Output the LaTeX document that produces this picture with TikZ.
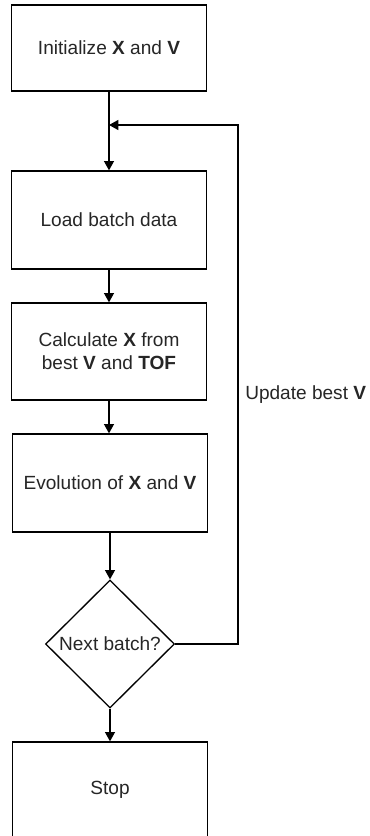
\documentclass[tikz,border=0pt]{standalone}
\usepackage{fontspec}
\setmainfont{Liberation Sans}
\usetikzlibrary{shapes.geometric,arrows.meta}
\tikzset{
	stepbox/.style={draw,line width=1pt,inner sep=0pt,minimum width=146.25pt,minimum height=73.5pt,align=center,text=black!85},
	decision/.style={draw,diamond,aspect=1,line width=1pt,inner sep=0pt,minimum width=96.75pt,minimum height=96pt,text=black!85},
	flow/.style={line width=1pt,-{Triangle[length=7pt,width=7.5pt]}},
}
\begin{document}
\begin{tikzpicture}[x=0.75pt,y=-0.75pt,font=\fontsize{14.3}{17.5}\selectfont]
	\useasboundingbox(0,0) rectangle (369,836);
	\node[stepbox,minimum height=64.5pt](init) at(109,48){Initialize \textbf{X} and \textbf{V}};
	\node[stepbox](load) at(109,220){Load batch data};
	\node[stepbox,minimum height=72.75pt](calc) at(109,351.5){Calculate \textbf{X} from\\best \textbf{V} and \textbf{TOF}};
	\node[stepbox](evol) at(110,483){Evolution of \textbf{X} and \textbf{V}};
	\node[decision](next) at(110,644){Next batch?};
	\node[stepbox,minimum height=72pt](stop) at(110,790){Stop};
	\coordinate(merge) at(109,125);
	\coordinate(back) at(238,644);
	\draw[flow](init)--(load);
	\draw[flow](load)--(calc);
	\draw[flow](calc.south)--(calc.south|-evol.north);
	\draw[flow](evol)--(next);
	\draw[flow](next)--(stop);
	\draw[flow](next.east)--(back)--(back|-merge)--(merge);
	\node[anchor=west,text=black!85,inner sep=0pt](upd) at(245,395){Update best \textbf{V}};
\end{tikzpicture}
\end{document}
